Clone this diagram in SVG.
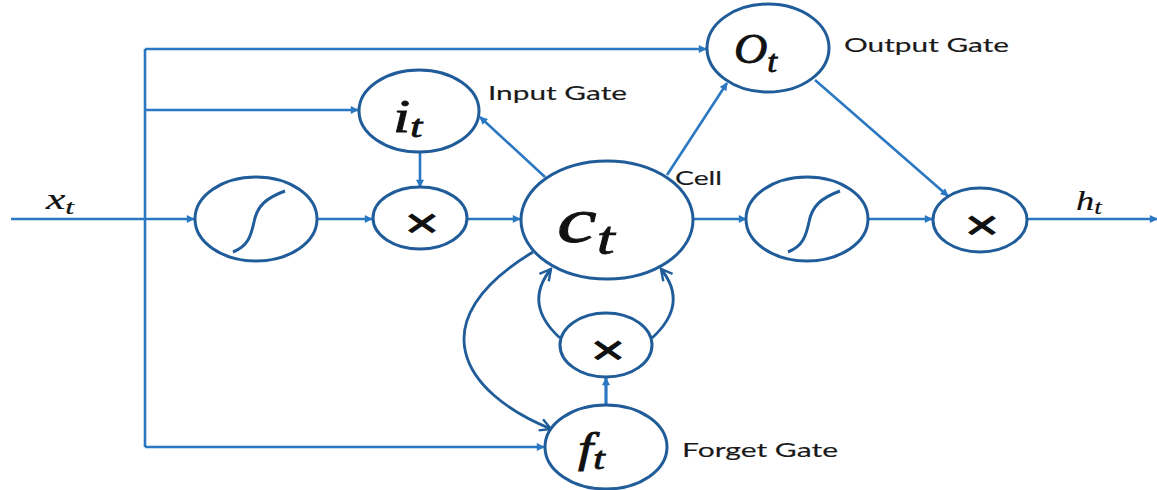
<svg xmlns="http://www.w3.org/2000/svg" width="1157" height="490" viewBox="0 0 1157 490">
<defs>
<marker id="tri" viewBox="0 0 10 10" refX="9" refY="5" markerWidth="9" markerHeight="8" markerUnits="userSpaceOnUse" orient="auto">
<path d="M0,0 L10,5 L0,10 z" fill="#2B78C2"/>
</marker>
<marker id="vee" viewBox="0 0 14 14" refX="12" refY="7" markerWidth="14" markerHeight="14" markerUnits="userSpaceOnUse" orient="auto">
<path d="M1,1 L12,7 L1,13" fill="none" stroke="#1F5C99" stroke-width="2.4"/>
</marker>
</defs>
<style>
.n{fill:#fff;stroke:#1F5C99;stroke-width:3}
.l{fill:none;stroke:#2B78C2;stroke-width:2.6}
.c{fill:none;stroke:#1F5C99;stroke-width:2.8}
.m{font-family:"Liberation Serif",serif;font-style:italic;fill:#111;stroke:#111;stroke-width:0.8}
.lab{font-family:Lato,"Liberation Sans",sans-serif;font-size:20px;fill:#1a1a1a;stroke:#1a1a1a;stroke-width:0.15}
.x{font-family:"DejaVu Sans",sans-serif;font-weight:bold;font-size:34px;fill:#111;text-anchor:middle}
.sig{fill:none;stroke:#1F5C99;stroke-width:3}
</style>
<rect width="1157" height="490" fill="#fff"/>
<g id="connectors">
<path class="l" d="M145,447 L145,49"/>
<path class="l" d="M145,49 L706,49" marker-end="url(#tri)"/>
<path class="l" d="M145,110 L358,110" marker-end="url(#tri)"/>
<path class="l" d="M145,447 L544,447" marker-end="url(#tri)"/>
<path class="l" d="M11,219 L194,219" marker-end="url(#tri)"/>
<path class="l" d="M318,219 L372,219" marker-end="url(#tri)"/>
<path class="l" d="M420,152 L420,187" marker-end="url(#tri)"/>
<path class="l" d="M467,219 L520,219" marker-end="url(#tri)"/>
<path class="l" d="M693,219 L746,219" marker-end="url(#tri)"/>
<path class="l" d="M868,219 L932,219" marker-end="url(#tri)"/>
<path class="l" d="M1027,219 L1157,219" marker-end="url(#tri)"/>
<path class="l" d="M545,177 L480,117" marker-end="url(#tri)"/>
<path class="l" d="M667,175 L727,83" marker-end="url(#tri)"/>
<path class="l" d="M815,80 L948,196" marker-end="url(#tri)"/>
<path class="l" d="M606,405 L606,378" style="stroke-width:3.2" marker-end="url(#tri)"/>
<path class="c" d="M560,338 C538,318 530,295 551,269" marker-end="url(#vee)"/>
<path class="c" d="M652,338 C674,318 682,295 661,269" marker-end="url(#vee)"/>
<path class="c" d="M533,252 C420,320 460,392 551,429" marker-end="url(#vee)"/>
</g>
<g id="n-sig1">
<ellipse class="n" cx="256" cy="219" rx="61" ry="42"/>
<path class="sig" d="M233,252 C248,246 251,236 254,222 C257,206 266,198 285,191"/>
</g>
<g id="n-mul1">
<ellipse class="n" cx="420" cy="218" rx="47" ry="31"/>
<text class="x" transform="translate(422,234) scale(1.4,1)">×</text>
</g>
<g id="n-it">
<ellipse class="n" cx="419" cy="111" rx="60" ry="41"/>
<text class="m" transform="translate(393,132) scale(1.35,1)" font-size="46">i<tspan font-size="32" dy="5">t</tspan></text>
</g>
<g id="n-ct">
<ellipse class="n" cx="607" cy="220" rx="86" ry="59"/>
<text class="m" transform="translate(557,242) scale(1.4,1)" font-size="64">c<tspan font-size="46" dy="12">t</tspan></text>
</g>
<g id="n-ot">
<ellipse class="n" cx="768" cy="48" rx="61" ry="44"/>
<text class="m" transform="translate(734,63) scale(1.1,1)" font-size="42">O<tspan font-size="32" dy="9">t</tspan></text>
</g>
<g id="n-sig2">
<ellipse class="n" cx="807" cy="219" rx="61" ry="42"/>
<path class="sig" d="M788,252 C803,246 806,236 809,222 C812,206 821,198 840,191"/>
</g>
<g id="n-mul2">
<ellipse class="n" cx="980" cy="220" rx="47" ry="32"/>
<text class="x" transform="translate(982,236) scale(1.4,1)">×</text>
</g>
<g id="n-mul3">
<ellipse class="n" cx="606" cy="345" rx="46" ry="32"/>
<text class="x" transform="translate(608,361) scale(1.4,1)">×</text>
</g>
<g id="n-ft">
<ellipse class="n" cx="606" cy="447" rx="61" ry="42"/>
<text class="m" transform="translate(578,462) scale(1.3,1)" font-size="42">f<tspan font-size="32" dy="7">t</tspan></text>
</g>
<g id="labels">
<text class="m" transform="translate(46,209) scale(1.45,1)" font-size="30" style="stroke-width:0.2">x<tspan font-size="22" dy="5">t</tspan></text>
<text class="m" transform="translate(1076,210) scale(1.3,1)" font-size="28" style="stroke-width:0.2">h<tspan font-size="21" dy="4">t</tspan></text>
<text class="lab" x="488" y="100" textLength="139" lengthAdjust="spacingAndGlyphs">Input Gate</text>
<text class="lab" x="844" y="52" textLength="165" lengthAdjust="spacingAndGlyphs">Output Gate</text>
<text class="lab" x="675" y="185" textLength="47" lengthAdjust="spacingAndGlyphs">Cell</text>
<text class="lab" x="682" y="457" textLength="156" lengthAdjust="spacingAndGlyphs">Forget Gate</text>
</g>
</svg>
